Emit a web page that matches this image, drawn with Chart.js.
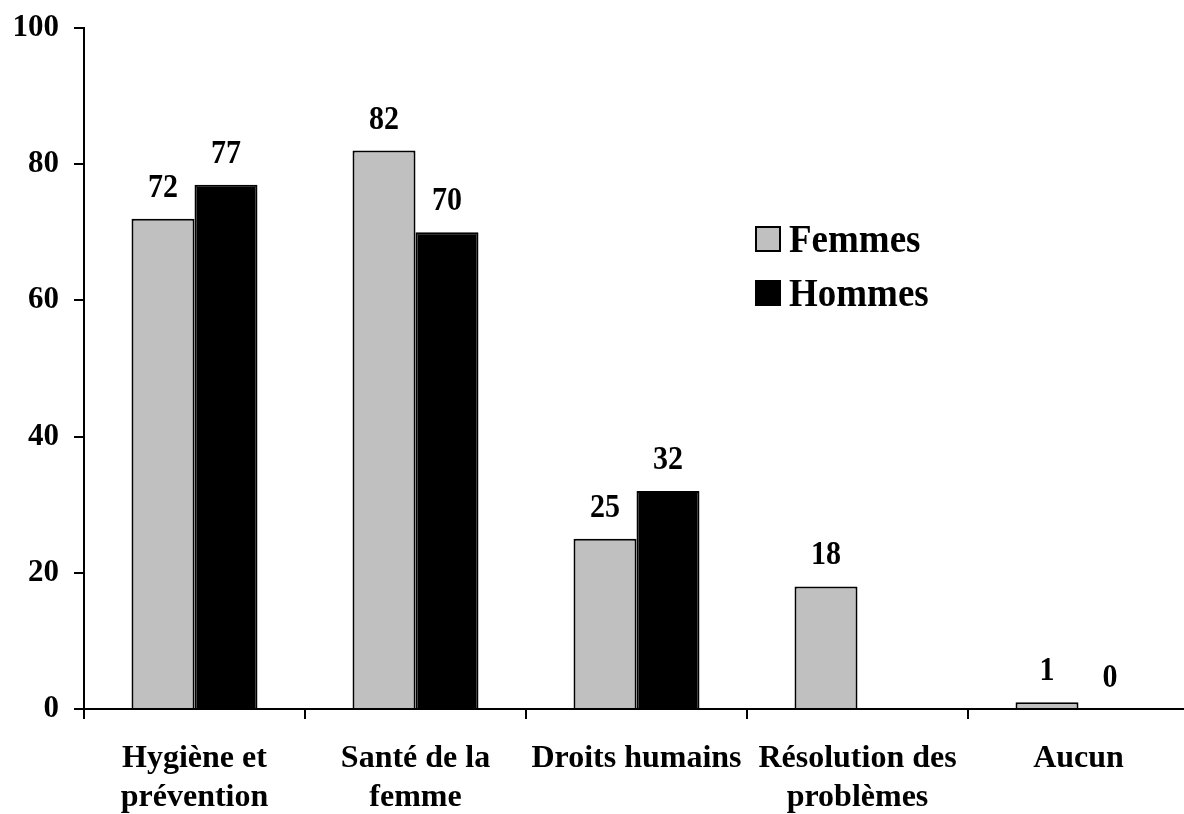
<!DOCTYPE html>
<html>
<head>
<meta charset="utf-8">
<script src="https://cdn.jsdelivr.net/npm/chart.js@4.4.1/dist/chart.umd.min.js"></script>
<style>
    html, body { margin: 0; padding: 0; background: #fff; overflow: hidden; }
    #wrap { width: 1190px; height: 814px; position: relative; }
</style>
</head>
<body>
<div id="wrap"><canvas id="chart"></canvas></div>
<script>
// Categories (multi-line labels) and values
const categories = [
    ['Hygiène et', 'prévention'],
    ['Santé de la', 'femme'],
    'Droits humains',
    ['Résolution des', 'problèmes'],
    'Aucun'
];
const femmes = [72, 82, 25, 18, 1];
const hommes = [77, 70, 32, null, 0];
const yTicks = [0, 20, 40, 60, 80, 100];

const serif = '"Liberation Serif", "Times New Roman", serif';

// value labels above each bar (slightly stretched vertically like the original)
const valueLabels = {
    id: 'valueLabels',
    afterDatasetsDraw(chart) {
        const ctx = chart.ctx;
        ctx.save();
        ctx.font = 'bold 30px ' + serif;
        ctx.fillStyle = '#000';
        ctx.textAlign = 'center';
        ctx.textBaseline = 'alphabetic';
        chart.data.datasets.forEach((ds, i) => {
            chart.getDatasetMeta(i).data.forEach((bar, j) => {
                const v = ds.data[j];
                if (v === null || v === undefined) return;
                ctx.save();
                ctx.translate(bar.x, bar.y - 22);
                ctx.scale(1, 1.1);
                ctx.fillText(String(v), 0, 0);
                ctx.restore();
            });
        });
        ctx.restore();
    }
};

// legend drawn inside the plot, as in the original
const insideLegend = {
    id: 'insideLegend',
    afterDraw(chart) {
        const ctx = chart.ctx;
        ctx.save();
        ctx.font = 'bold 37px ' + serif;
        ctx.textBaseline = 'alphabetic';
        chart.data.datasets.forEach((ds, i) => {
            const top = 227 + i * 54;
            ctx.fillStyle = ds.backgroundColor;
            ctx.fillRect(756, top, 24, 24);
            ctx.strokeStyle = '#000';
            ctx.lineWidth = 2;
            ctx.strokeRect(756, top, 24, 24);
            ctx.fillStyle = '#000';
            ctx.save();
            ctx.translate(789, top + 25);
            ctx.scale(1, 1.08);
            ctx.fillText(ds.label, 0, 0);
            ctx.restore();
        });
        ctx.restore();
    }
};

new Chart(document.getElementById('chart'), {
    type: 'bar',
    data: {
        labels: categories,
        datasets: [{
            label: 'Femmes',
            data: femmes,
            backgroundColor: '#C0C0C0',
            borderColor: '#000',
            borderWidth: 2
        }, {
            label: 'Hommes',
            data: hommes,
            backgroundColor: '#000000',
            borderColor: '#000',
            borderWidth: 2
        }]
    },
    options: {
        responsive: true,
        maintainAspectRatio: false,
        animation: false,
        categoryPercentage: 0.57,
        barPercentage: 1,
        layout: { padding: { top: 28, right: 1, bottom: 0, left: 0 } },
        plugins: {
            legend: { display: false },
            tooltip: { enabled: false }
        },
        scales: {
            x: {
                grid: {
                    drawOnChartArea: false,
                    drawTicks: true,
                    tickLength: 10,
                    color: '#000',
                    lineWidth: 2,
                    offset: true
                },
                border: { color: '#000', width: 2 },
                ticks: {
                    color: '#000',
                    padding: 20,
                    maxRotation: 0,
                    autoSkip: false,
                    font: { family: serif, size: 32, weight: 'bold', lineHeight: 1.22 }
                },
                afterFit(scale) { scale.height = 105; }
            },
            y: {
                min: 0,
                max: 100,
                afterBuildTicks(scale) { scale.ticks = yTicks.map(v => ({ value: v })); },
                grid: {
                    drawOnChartArea: false,
                    drawTicks: true,
                    tickLength: 10,
                    color: '#000',
                    lineWidth: 2
                },
                border: { color: '#000', width: 2 },
                ticks: {
                    color: '#000',
                    padding: 15,
                    font: { family: serif, size: 31, weight: 'bold' }
                },
                afterFit(scale) {
                    scale.width = 84;
                    scale.paddingTop = 0;
                    scale.paddingBottom = 0;
                }
            }
        }
    },
    plugins: [valueLabels, insideLegend]
});
</script>
</body>
</html>
